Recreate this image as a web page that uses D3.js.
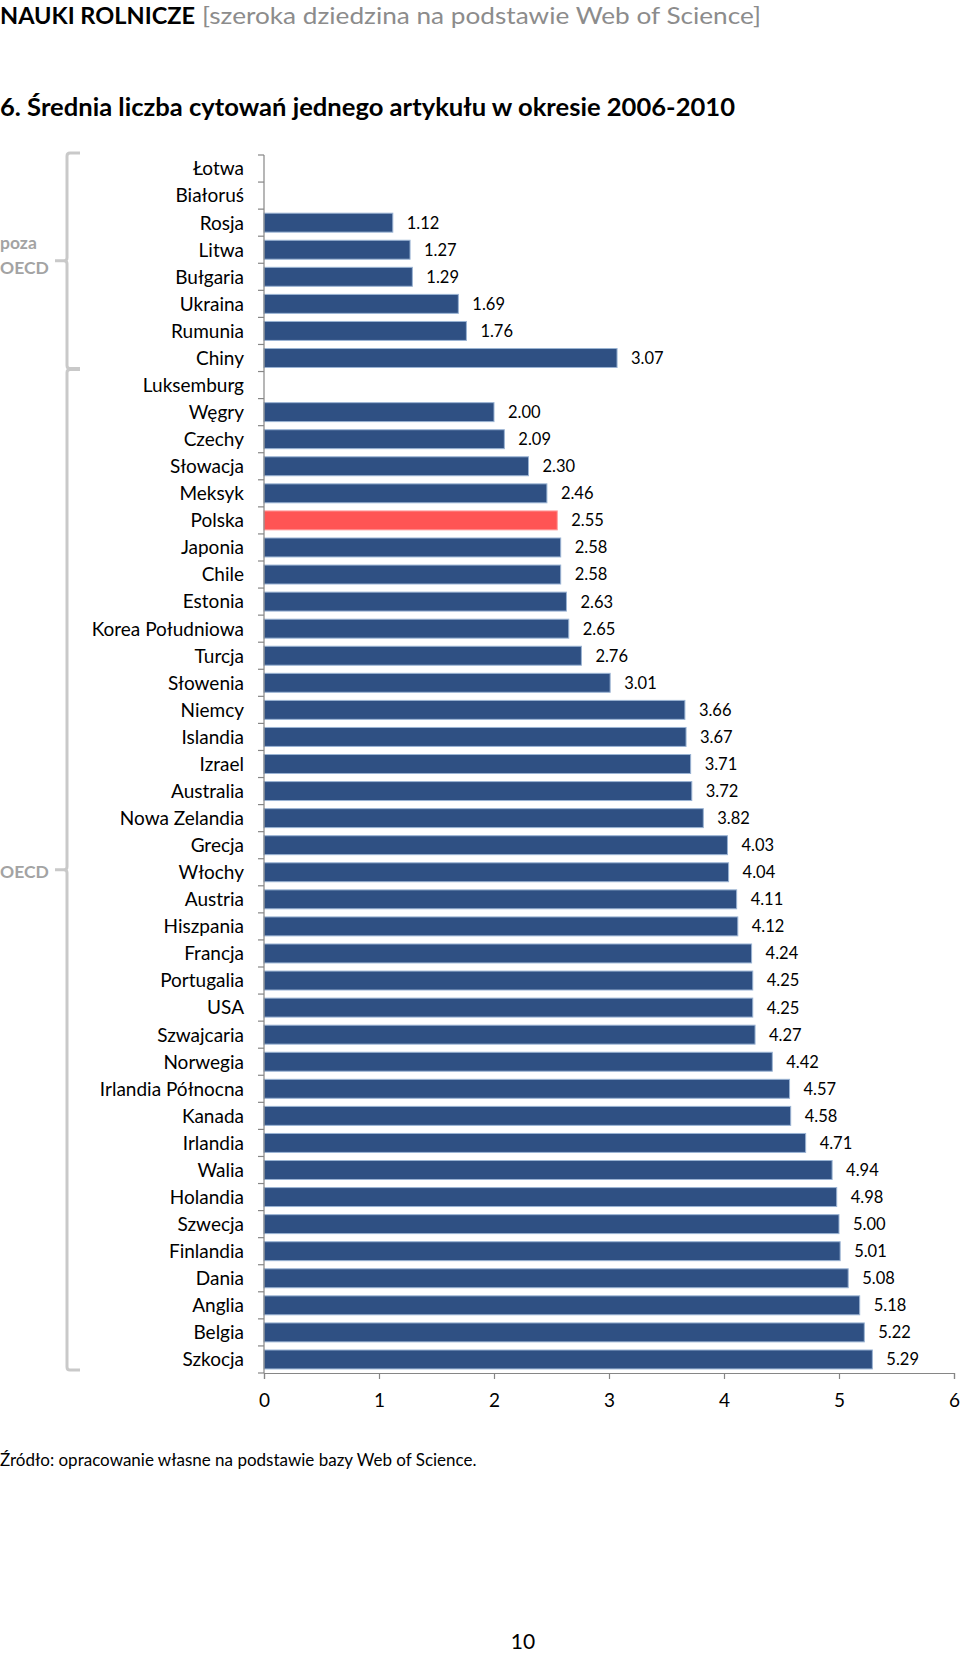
<!DOCTYPE html>
<html><head><meta charset="utf-8">
<script src="https://cdn.jsdelivr.net/npm/d3@7"></script>
<style>html,body{margin:0;padding:0;background:#fff;}svg{display:block;}</style>
</head><body>
<script>
const categories = ["Łotwa","Białoruś","Rosja","Litwa","Bułgaria","Ukraina","Rumunia","Chiny","Luksemburg","Węgry","Czechy","Słowacja","Meksyk","Polska","Japonia","Chile","Estonia","Korea Południowa","Turcja","Słowenia","Niemcy","Islandia","Izrael","Australia","Nowa Zelandia","Grecja","Włochy","Austria","Hiszpania","Francja","Portugalia","USA","Szwajcaria","Norwegia","Irlandia Północna","Kanada","Irlandia","Walia","Holandia","Szwecja","Finlandia","Dania","Anglia","Belgia","Szkocja"];
const values = [null,null,1.12,1.27,1.29,1.69,1.76,3.07,null,2.00,2.09,2.30,2.46,2.55,2.58,2.58,2.63,2.65,2.76,3.01,3.66,3.67,3.71,3.72,3.82,4.03,4.04,4.11,4.12,4.24,4.25,4.25,4.27,4.42,4.57,4.58,4.71,4.94,4.98,5.00,5.01,5.08,5.18,5.22,5.29];
const highlight = ["Polska"];
const xTicks = [0,1,2,3,4,5,6];
const groupNames = [["poza","OECD"],["OECD"]];
const groupFirst = ["Łotwa","Luksemburg"];
const groupLast = ["Chiny","Szkocja"];
const titleMain = "NAUKI ROLNICZE";
const titleSub = "[szeroka dziedzina na podstawie Web of Science]";
const chartTitle = "6. Średnia liczba cytowań jednego artykułu w okresie 2006-2010";
const sourceText = "Źródło: opracowanie własne na podstawie bazy Web of Science.";
const pageNumber = "10";

const W = 960, H = 1653;
const svg = d3.select("body").append("svg").attr("width", W).attr("height", H)
  .style("font-family", "Lato, 'Open Sans', sans-serif");
svg.append("rect").attr("width", W).attr("height", H).attr("fill", "#fff");

// Header
svg.append("text").attr("x", 0).attr("y", 24).attr("font-size", 23).attr("font-weight", "bold")
  .attr("fill", "#000").attr("textLength", 195).attr("lengthAdjust", "spacingAndGlyphs").text(titleMain);
svg.append("text").attr("x", 202).attr("y", 24).attr("font-size", 23)
  .attr("fill", "#8c8c8c").attr("textLength", 559).attr("lengthAdjust", "spacingAndGlyphs").text(titleSub);
svg.append("text").attr("x", 0).attr("y", 116).attr("font-size", 24).attr("font-weight", "bold")
  .attr("fill", "#000").attr("textLength", 735).attr("lengthAdjust", "spacingAndGlyphs").text(chartTitle);

const x = d3.scaleLinear().domain([0, 6]).range([264, 954]);
const y = d3.scaleBand().domain(categories).range([155, 1373]).paddingInner(0.3).paddingOuter(0.15);

// bars
const data = categories.map((c, i) => ({c, v: values[i]}));
svg.append("g").selectAll("rect").data(data.filter(d => d.v != null)).join("rect")
  .attr("x", x(0)).attr("y", d => y(d.c))
  .attr("width", d => x(d.v) - x(0)).attr("height", y.bandwidth())
  .attr("fill", d => highlight.includes(d.c) ? "#FF5454" : "#2F5083")
  .attr("stroke", d => highlight.includes(d.c) ? "#FF9C9C" : "#9AB3D3").attr("stroke-width", 1);

// value labels
svg.append("g").selectAll("text").data(data.filter(d => d.v != null)).join("text")
  .attr("x", d => x(d.v) + 14).attr("y", d => y(d.c) + y.bandwidth() / 2)
  .attr("dy", "0.36em").attr("font-size", 16.5).attr("fill", "#000")
  .text(d => d3.format(".2f")(d.v));

// y axis
const step = y.step();
const yTop = 155;
const gy = svg.append("g").attr("stroke", "#868686").attr("stroke-width", 1.2);
gy.append("line").attr("x1", x(0)).attr("x2", x(0)).attr("y1", yTop).attr("y2", 1373);
gy.selectAll("line.tk").data(d3.range(categories.length + 1)).join("line").attr("class", "tk")
  .attr("x1", x(0) - 6).attr("x2", x(0))
  .attr("y1", i => yTop + i * step).attr("y2", i => yTop + i * step);
svg.append("g").selectAll("text").data(categories).join("text")
  .attr("x", 244).attr("y", d => y(d) + y.bandwidth() / 2).attr("dy", "0.36em")
  .attr("text-anchor", "end").attr("font-size", 19).attr("fill", "#000").text(d => d);

// x axis
const gx = svg.append("g").attr("transform", "translate(0,1373)");
gx.call(d3.axisBottom(x).tickValues(xTicks).tickSize(6).tickFormat(d3.format("d")));
gx.select(".domain").attr("stroke", "#868686").attr("stroke-width", 1.2);
gx.selectAll(".tick line").attr("stroke", "#868686").attr("stroke-width", 1.2);
gx.selectAll(".tick text").attr("font-size", 19).attr("font-family", "Lato, sans-serif")
  .attr("fill", "#000").attr("y", 27).attr("dy", "0.36em");

// group brackets
const bracketColor = "#c9c9c9";
groupNames.forEach((names, gi) => {
  const top = yTop + categories.indexOf(groupFirst[gi]) * step - 2;
  const bot = yTop + (categories.indexOf(groupLast[gi]) + 1) * step - 3;
  const mid = (top + bot) / 2;
  const xv = 67, xh = 80, xn = 55;
  const p = d3.path();
  p.moveTo(xh, top); p.lineTo(xv + 3, top); p.quadraticCurveTo(xv, top, xv, top + 3);
  p.lineTo(xv, mid - 3); p.quadraticCurveTo(xv, mid, xv - 3, mid); p.lineTo(xn, mid);
  p.moveTo(xv - 3, mid); p.quadraticCurveTo(xv, mid, xv, mid + 3);
  p.lineTo(xv, bot - 3); p.quadraticCurveTo(xv, bot, xv + 3, bot); p.lineTo(xh, bot);
  svg.append("path").attr("d", p.toString()).attr("fill", "none")
    .attr("stroke", bracketColor).attr("stroke-width", 3);
  const n = names.length;
  names.forEach((t, k) => {
    svg.append("text").attr("x", 0).attr("y", mid + 2 - (n - 1) * 8 + (k - (n - 1) / 2) * 25)
      .attr("dy", "0.36em").attr("font-size", 17.5).attr("font-weight", "bold")
      .attr("fill", "#a3a3a3").text(t);
  });
});

// footer
svg.append("text").attr("x", 0).attr("y", 1466).attr("font-size", 17).attr("fill", "#000").text(sourceText);
svg.append("text").attr("x", 523).attr("y", 1649).attr("text-anchor", "middle").attr("font-size", 21)
  .attr("fill", "#000").text(pageNumber);
</script>
</body></html>
